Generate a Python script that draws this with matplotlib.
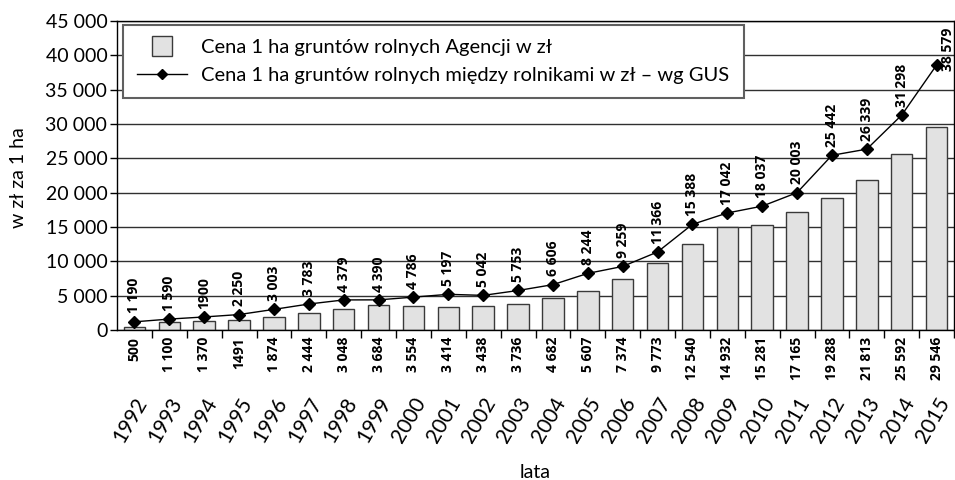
import matplotlib
matplotlib.use('Agg')
import numpy as np
import matplotlib.pyplot as plt
from matplotlib.lines import Line2D

years = ['1992', '1993', '1994', '1995', '1996', '1997', '1998', '1999', '2000', '2001', '2002', '2003',
         '2004', '2005', '2006', '2007', '2008', '2009', '2010', '2011', '2012', '2013', '2014', '2015']
agency_price = [500, 1100, 1370, 1491, 1874, 2444, 3048, 3684, 3554, 3414, 3438, 3736,
                4682, 5607, 7374, 9773, 12540, 14932, 15281, 17165, 19288, 21813, 25592, 29546]
gus_price = [1190, 1590, 1900, 2250, 3003, 3783, 4379, 4390, 4786, 5197, 5042, 5753,
             6606, 8244, 9259, 11366, 15388, 17042, 18037, 20003, 25442, 26339, 31298, 38579]
yticks = [0, 5000, 10000, 15000, 20000, 25000, 30000, 35000, 40000, 45000]

bar_name = 'Cena 1 ha gruntów rolnych Agencji w zł'
line_name = 'Cena 1 ha gruntów rolnych między rolnikami w zł – wg GUS'


def fmt(v):
    return '{:,}'.format(v).replace(',', ' ')


plt.rcParams['font.family'] = ['Lato', 'DejaVu Sans']
lbl_font = dict(family=['Open Sans', 'DejaVu Sans'], fontweight='bold', fontsize=10)

fig = plt.figure(figsize=(9.55, 4.8), dpi=100)
ax = fig.add_axes([117 / 955, 150 / 480, 837 / 955, 309 / 480])

x = np.arange(len(years))
ax.set_axisbelow(True)
ax.yaxis.grid(True, color='#303030', linewidth=1)
ax.bar(x, agency_price, width=0.62, color='#e2e2e2', edgecolor='#3a3a3a', linewidth=1, zorder=2)
ax.plot(x, gus_price, color='black', linewidth=1, marker='D', markersize=6, zorder=3)

ax.set_xlim(-0.5, len(years) - 0.5)
ax.set_ylim(0, 45000)
ax.set_yticks(yticks)
ax.set_yticklabels([fmt(v) for v in yticks], fontsize=14)
ax.set_xticks(x + 0.5)
ax.set_xticklabels([])
ax.tick_params(axis='x', length=6, width=1, direction='out')
ax.tick_params(axis='y', length=5, width=1, direction='out', pad=2)
for s in ax.spines.values():
    s.set_color('black')
    s.set_linewidth(1)

# bar values under the axis
for i, v in enumerate(agency_price):
    t = '1491' if years[i] == '1995' else fmt(v)
    ax.annotate(t, xy=(i, 0), xycoords=('data', 'axes fraction'), xytext=(0, -5),
                textcoords='offset points', rotation=90, ha='center', va='top', **lbl_font)

# line values above markers
for i, v in enumerate(gus_price):
    t = '1900' if years[i] == '1994' else fmt(v)
    off = (8, -4) if i == len(years) - 1 else (0, 6)
    ax.annotate(t, xy=(i, v), xytext=off, textcoords='offset points', rotation=90,
                ha='center', va='bottom', zorder=4, **lbl_font)

# year labels
for i, y in enumerate(years):
    ax.annotate(y, xy=(i + 0.48, 0), xycoords=('data', 'axes fraction'), xytext=(0, -46),
                textcoords='offset points', rotation=60, ha='right', va='top', fontsize=15)

handles = [Line2D([0], [0], linestyle='none', marker='s', markersize=14,
                  markerfacecolor='#e2e2e2', markeredgecolor='#3a3a3a', markeredgewidth=1),
           Line2D([0], [0], color='black', linewidth=1, marker='D', markersize=5.5)]
leg = ax.legend(handles, [bar_name, line_name], loc='upper left', bbox_to_anchor=(0.007, 0.987),
                borderaxespad=0, fontsize=14.5, frameon=True, fancybox=False, framealpha=1,
                edgecolor='#606060', handlelength=2.5, handletextpad=0.7, borderpad=0.7,
                labelspacing=0.55)
leg.get_frame().set_linewidth(1.5)
leg.set_zorder(5)

fig.text(18 / 955, 1 - 178 / 480, 'w zł za 1 ha', rotation=90, ha='center', va='center', fontsize=14)
fig.text(535 / 955, 8 / 480, 'lata', ha='center', va='center', fontsize=14)

fig.savefig('out.png', dpi=100)
